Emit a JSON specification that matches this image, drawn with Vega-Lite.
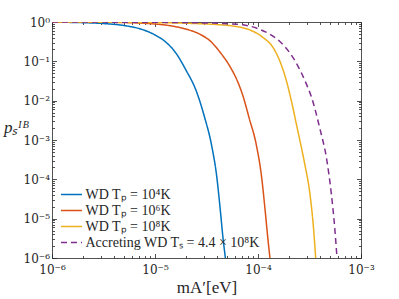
{
  "$schema": "https://vega.github.io/schema/vega-lite/v6.json",
  "width": 309,
  "height": 236,
  "autosize": {"type": "none"},
  "padding": {"left": 52, "top": 22, "right": 38, "bottom": 41},
  "background": "white",
  "config": {
    "view": {"stroke": null},
    "axis": {
      "domainColor": "#262626",
      "domainWidth": 0.8,
      "tickColor": "#262626",
      "tickWidth": 0.8,
      "labelFont": "DejaVu Serif",
      "labelFontSize": 12,
      "labelColor": "#262626",
      "titleFont": "Liberation Serif",
      "titleColor": "#262626",
      "titleFontWeight": "normal",
      "grid": false,
      "labelOverlap": false,
      "labelBound": false,
      "labelFlush": false
    },
    "legend": {
      "labelFont": "Liberation Serif",
      "labelFontSize": 14,
      "labelColor": "#262626",
      "labelLimit": 400
    }
  },
  "data": {
    "values": [
      {"s": "WD1", "m": 1e-6, "p": 0.9886},
      {"s": "WD1", "m": 1.995e-6, "p": 0.9616},
      {"s": "WD1", "m": 3.162e-6, "p": 0.9141},
      {"s": "WD1", "m": 5.012e-6, "p": 0.8128},
      {"s": "WD1", "m": 7.079e-6, "p": 0.6761},
      {"s": "WD1", "m": 1e-5, "p": 0.4677},
      {"s": "WD1", "m": 1.259e-5, "p": 0.3162},
      {"s": "WD1", "m": 1.585e-5, "p": 0.166},
      {"s": "WD1", "m": 1.995e-5, "p": 0.0603},
      {"s": "WD1", "m": 2.512e-5, "p": 0.01778},
      {"s": "WD1", "m": 3.02e-5, "p": 0.00389},
      {"s": "WD1", "m": 3.548e-5, "p": 0.000724},
      {"s": "WD1", "m": 3.981e-5, "p": 0.0001148},
      {"s": "WD1", "m": 4.315e-5, "p": 1.549e-5},
      {"s": "WD1", "m": 4.571e-5, "p": 3.24e-6},
      {"s": "WD1", "m": 4.819e-5, "p": 1e-6},
      {"s": "WD1", "m": 5.07e-5, "p": 2.82e-7},

      {"s": "WD2", "m": 1e-6, "p": 0.9977},
      {"s": "WD2", "m": 3.162e-6, "p": 0.9863},
      {"s": "WD2", "m": 5.433e-6, "p": 0.9616},
      {"s": "WD2", "m": 8.61e-6, "p": 0.9141},
      {"s": "WD2", "m": 1.365e-5, "p": 0.8128},
      {"s": "WD2", "m": 1.928e-5, "p": 0.6761},
      {"s": "WD2", "m": 2.723e-5, "p": 0.4898},
      {"s": "WD2", "m": 3.428e-5, "p": 0.3311},
      {"s": "WD2", "m": 4.315e-5, "p": 0.166},
      {"s": "WD2", "m": 5.309e-5, "p": 0.0759},
      {"s": "WD2", "m": 6.31e-5, "p": 0.0316},
      {"s": "WD2", "m": 7.145e-5, "p": 0.01318},
      {"s": "WD2", "m": 8.222e-5, "p": 0.00355},
      {"s": "WD2", "m": 9.661e-5, "p": 0.000724},
      {"s": "WD2", "m": 0.0001084, "p": 0.0001148},
      {"s": "WD2", "m": 0.0001175, "p": 1.549e-5},
      {"s": "WD2", "m": 0.0001245, "p": 3.24e-6},
      {"s": "WD2", "m": 0.0001306, "p": 1e-6},
      {"s": "WD2", "m": 0.0001374, "p": 2.82e-7},

      {"s": "WD3", "m": 1e-6, "p": 0.9977},
      {"s": "WD3", "m": 3.162e-6, "p": 0.9908},
      {"s": "WD3", "m": 1e-5, "p": 0.966},
      {"s": "WD3", "m": 2.512e-5, "p": 0.912},
      {"s": "WD3", "m": 3.981e-5, "p": 0.861},
      {"s": "WD3", "m": 5.623e-5, "p": 0.7943},
      {"s": "WD3", "m": 8.299e-5, "p": 0.631},
      {"s": "WD3", "m": 0.0001119, "p": 0.4036},
      {"s": "WD3", "m": 0.00014, "p": 0.2244},
      {"s": "WD3", "m": 0.0001626, "p": 0.103},
      {"s": "WD3", "m": 0.0001888, "p": 0.0319},
      {"s": "WD3", "m": 0.0002109, "p": 0.00989},
      {"s": "WD3", "m": 0.000236, "p": 0.00251},
      {"s": "WD3", "m": 0.000257, "p": 0.000891},
      {"s": "WD3", "m": 0.0002838, "p": 0.000251},
      {"s": "WD3", "m": 0.0003199, "p": 4.08e-5},
      {"s": "WD3", "m": 0.0003459, "p": 5.79e-6},
      {"s": "WD3", "m": 0.0003631, "p": 1e-6},
      {"s": "WD3", "m": 0.0003758, "p": 2.51e-7},

      {"s": "ACC", "m": 1e-6, "p": 0.9977},
      {"s": "ACC", "m": 3.162e-6, "p": 0.9931},
      {"s": "ACC", "m": 1e-5, "p": 0.9817},
      {"s": "ACC", "m": 2.512e-5, "p": 0.955},
      {"s": "ACC", "m": 5.309e-5, "p": 0.9016},
      {"s": "ACC", "m": 7.145e-5, "p": 0.8511},
      {"s": "ACC", "m": 0.0001, "p": 0.6761},
      {"s": "ACC", "m": 0.00013, "p": 0.4898},
      {"s": "ACC", "m": 0.0001622, "p": 0.3236},
      {"s": "ACC", "m": 0.0002032, "p": 0.166},
      {"s": "ACC", "m": 0.0002443, "p": 0.0759},
      {"s": "ACC", "m": 0.0002951, "p": 0.0263},
      {"s": "ACC", "m": 0.0003296, "p": 0.01259},
      {"s": "ACC", "m": 0.0003972, "p": 0.00203},
      {"s": "ACC", "m": 0.0004677, "p": 0.000287},
      {"s": "ACC", "m": 0.0005164, "p": 4.08e-5},
      {"s": "ACC", "m": 0.0005559, "p": 5.79e-6},
      {"s": "ACC", "m": 0.0005848, "p": 1e-6},
      {"s": "ACC", "m": 0.0006026, "p": 3.16e-7}
    ]
  },
  "resolve": {"axis": {"x": "independent", "y": "independent"}},
  "layer": [
    {
      "mark": {"type": "line", "clip": true, "strokeWidth": 1.5, "interpolate": "monotone"},
      "encoding": {
        "x": {
          "field": "m", "type": "quantitative",
          "scale": {"type": "log", "domain": [1e-6, 0.001], "nice": false},
          "axis": {
            "orient": "bottom",
            "values": [1e-6,2e-6,3e-6,4e-6,5e-6,6e-6,7e-6,8e-6,9e-6,1e-5,2e-5,3e-5,4e-5,5e-5,6e-5,7e-5,8e-5,9e-5,0.0001,0.0002,0.0003,0.0004,0.0005,0.0006,0.0007,0.0008,0.0009,0.001],
            "labelExpr": "abs(log(datum.value)/LN10 - round(log(datum.value)/LN10)) < 0.01 ? '10' + (round(log(datum.value)/LN10) < 0 ? '⁻' : '') + ['⁰','¹','²','³','⁴','⁵','⁶','⁷','⁸','⁹'][abs(round(log(datum.value)/LN10))] : ''",
            "tickSize": {"condition": {"test": "abs(log(datum.value)/LN10 - round(log(datum.value)/LN10)) < 0.01", "value": -4.5}, "value": -2.5},
            "labelPadding": 11,
            "title": "mA′[eV]",
            "titleFontSize": 17,
            "titlePadding": 2
          }
        },
        "y": {
          "field": "p", "type": "quantitative",
          "scale": {"type": "log", "domain": [1e-6, 1], "nice": false},
          "axis": {
            "orient": "left",
            "values": [1e-6,2e-6,3e-6,4e-6,5e-6,6e-6,7e-6,8e-6,9e-6,1e-5,2e-5,3e-5,4e-5,5e-5,6e-5,7e-5,8e-5,9e-5,0.0001,0.0002,0.0003,0.0004,0.0005,0.0006,0.0007,0.0008,0.0009,0.001,0.002,0.003,0.004,0.005,0.006,0.007,0.008,0.009,0.01,0.02,0.03,0.04,0.05,0.06,0.07,0.08,0.09,0.1,0.2,0.3,0.4,0.5,0.6,0.7,0.8,0.9,1],
            "labelExpr": "abs(log(datum.value)/LN10 - round(log(datum.value)/LN10)) < 0.01 ? '10' + (round(log(datum.value)/LN10) < 0 ? '⁻' : '') + ['⁰','¹','²','³','⁴','⁵','⁶','⁷','⁸','⁹'][abs(round(log(datum.value)/LN10))] : ''",
            "tickSize": {"condition": {"test": "abs(log(datum.value)/LN10 - round(log(datum.value)/LN10)) < 0.01", "value": -4.5}, "value": -2.5},
            "labelPadding": 7,
            "title": "pₛᴵᴮ",
            "titleFontSize": 17,
            "titleFontStyle": "italic",
            "titleAngle": 0,
            "titleAlign": "center",
            "titleBaseline": "middle",
            "titleX": -36,
            "titleY": 105
          }
        },
        "color": {
          "field": "s", "type": "nominal",
          "scale": {"domain": ["WD1", "WD2", "WD3", "ACC"], "range": ["#0072BD", "#D95319", "#EDB120", "#7E2F8E"]},
          "legend": {
            "title": null,
            "orient": "bottom-left",
            "offset": 8,
            "padding": 0,
            "rowPadding": -2,
            "symbolType": "M-1,0H1.8",
            "symbolSize": 225,
            "symbolStrokeWidth": 1.5,
            "labelOffset": 8.5,
            "labelExpr": "datum.label == 'WD1' ? 'WD Tₚ = 10⁴K' : datum.label == 'WD2' ? 'WD Tₚ = 10⁶K' : datum.label == 'WD3' ? 'WD Tₚ = 10⁸K' : 'Accreting WD Tₛ = 4.4 × 10⁸K'"
          }
        },
        "strokeDash": {
          "field": "s", "type": "nominal",
          "scale": {"domain": ["WD1", "WD2", "WD3", "ACC"], "range": [[1, 0], [1, 0], [1, 0], [6, 4]]},
          "legend": {
            "title": null,
            "orient": "bottom-left",
            "offset": 8,
            "padding": 0,
            "rowPadding": -2,
            "symbolType": "M-1,0H1.8",
            "symbolSize": 225,
            "symbolStrokeWidth": 1.5,
            "labelOffset": 8.5,
            "labelExpr": "datum.label == 'WD1' ? 'WD Tₚ = 10⁴K' : datum.label == 'WD2' ? 'WD Tₚ = 10⁶K' : datum.label == 'WD3' ? 'WD Tₚ = 10⁸K' : 'Accreting WD Tₛ = 4.4 × 10⁸K'"
          }
        }
      }
    },
    {
      "mark": {"type": "line", "opacity": 0},
      "encoding": {
        "detail": {"field": "s", "type": "nominal"},
        "x": {
          "field": "m", "type": "quantitative",
          "axis": {
            "orient": "top",
            "values": [1e-6,2e-6,3e-6,4e-6,5e-6,6e-6,7e-6,8e-6,9e-6,1e-5,2e-5,3e-5,4e-5,5e-5,6e-5,7e-5,8e-5,9e-5,0.0001,0.0002,0.0003,0.0004,0.0005,0.0006,0.0007,0.0008,0.0009,0.001],
            "labels": false,
            "title": null,
            "tickSize": {"condition": {"test": "abs(log(datum.value)/LN10 - round(log(datum.value)/LN10)) < 0.01", "value": -4.5}, "value": -2.5}
          }
        },
        "y": {
          "field": "p", "type": "quantitative",
          "axis": {
            "orient": "right",
            "values": [1e-6,2e-6,3e-6,4e-6,5e-6,6e-6,7e-6,8e-6,9e-6,1e-5,2e-5,3e-5,4e-5,5e-5,6e-5,7e-5,8e-5,9e-5,0.0001,0.0002,0.0003,0.0004,0.0005,0.0006,0.0007,0.0008,0.0009,0.001,0.002,0.003,0.004,0.005,0.006,0.007,0.008,0.009,0.01,0.02,0.03,0.04,0.05,0.06,0.07,0.08,0.09,0.1,0.2,0.3,0.4,0.5,0.6,0.7,0.8,0.9,1],
            "labels": false,
            "title": null,
            "tickSize": {"condition": {"test": "abs(log(datum.value)/LN10 - round(log(datum.value)/LN10)) < 0.01", "value": -4.5}, "value": -2.5}
          }
        }
      }
    }
  ]
}
